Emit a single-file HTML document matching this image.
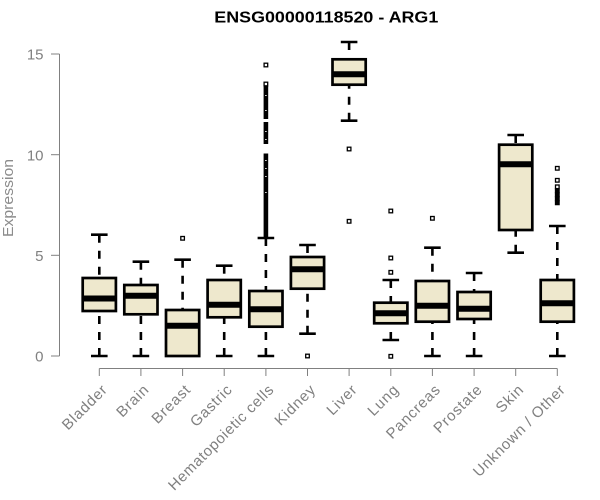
<!DOCTYPE html>
<html><head><meta charset="utf-8"><style>html,body{margin:0;padding:0;background:#fff}svg{display:block}</style></head>
<body>
<svg width="600" height="500" viewBox="0 0 600 500" xmlns="http://www.w3.org/2000/svg" font-family="Liberation Sans, Arial, sans-serif">
<rect width="600" height="500" fill="#fff"/>
<text x="214.3" y="22.7" font-size="15.5" font-weight="bold" textLength="224" lengthAdjust="spacingAndGlyphs">ENSG00000118520 - ARG1</text>
<!-- y axis -->
<g stroke="#808080" stroke-width="1" fill="none">
<line x1="59.5" y1="54" x2="59.5" y2="356"/>
<line x1="51" y1="54" x2="59.5" y2="54"/>
<line x1="51" y1="154.7" x2="59.5" y2="154.7"/>
<line x1="51" y1="255.3" x2="59.5" y2="255.3"/>
<line x1="51" y1="356" x2="59.5" y2="356"/>
<line x1="99.3" y1="368.5" x2="557.3" y2="368.5"/>
<line x1="99.3" y1="368.5" x2="99.3" y2="376"/>
<line x1="140.9" y1="368.5" x2="140.9" y2="376"/>
<line x1="182.6" y1="368.5" x2="182.6" y2="376"/>
<line x1="224.2" y1="368.5" x2="224.2" y2="376"/>
<line x1="265.9" y1="368.5" x2="265.9" y2="376"/>
<line x1="307.5" y1="368.5" x2="307.5" y2="376"/>
<line x1="349.1" y1="368.5" x2="349.1" y2="376"/>
<line x1="390.8" y1="368.5" x2="390.8" y2="376"/>
<line x1="432.4" y1="368.5" x2="432.4" y2="376"/>
<line x1="474.1" y1="368.5" x2="474.1" y2="376"/>
<line x1="515.7" y1="368.5" x2="515.7" y2="376"/>
<line x1="557.3" y1="368.5" x2="557.3" y2="376"/>
</g>
<g fill="#808080" font-size="15" text-anchor="end">
<text x="43.5" y="59.7">15</text>
<text x="43.5" y="160.4">10</text>
<text x="43.5" y="261">5</text>
<text x="43.5" y="361.7">0</text>
</g>
<text transform="translate(13,198) rotate(-90)" text-anchor="middle" font-size="15" fill="#8c8c8c" textLength="78" lengthAdjust="spacingAndGlyphs">Expression</text>
<g fill="#808080" font-size="15" text-anchor="end">
<text transform="translate(107.8,391) rotate(-45)" textLength="56.3" lengthAdjust="spacing">Bladder</text>
<text transform="translate(149.4,391) rotate(-45)" textLength="38.2" lengthAdjust="spacing">Brain</text>
<text transform="translate(191.1,391) rotate(-45)" textLength="47.3" lengthAdjust="spacing">Breast</text>
<text transform="translate(232.7,391) rotate(-45)" textLength="51.8" lengthAdjust="spacing">Gastric</text>
<text transform="translate(274.4,391) rotate(-45)" textLength="141.7" lengthAdjust="spacing">Hematopoietic cells</text>
<text transform="translate(316,391) rotate(-45)" textLength="50" lengthAdjust="spacing">Kidney</text>
<text transform="translate(357.6,391) rotate(-45)" textLength="35.4" lengthAdjust="spacing">Liver</text>
<text transform="translate(399.3,391) rotate(-45)" textLength="36.4" lengthAdjust="spacing">Lung</text>
<text transform="translate(440.9,391) rotate(-45)" textLength="69" lengthAdjust="spacing">Pancreas</text>
<text transform="translate(482.6,391) rotate(-45)" textLength="60.9" lengthAdjust="spacing">Prostate</text>
<text transform="translate(524.2,391) rotate(-45)" textLength="31.8" lengthAdjust="spacing">Skin</text>
<text transform="translate(565.8,391) rotate(-45)" textLength="122.6" lengthAdjust="spacing">Unknown / Other</text>
</g>

<!-- whiskers (dashed, starting at staple) -->
<g stroke="#000" stroke-width="2.6" stroke-dasharray="8 8" fill="none">
<line x1="99.3" y1="234.7" x2="99.3" y2="278"/><line x1="99.3" y1="356" x2="99.3" y2="311"/>
<line x1="140.9" y1="261.7" x2="140.9" y2="285"/><line x1="140.9" y1="356" x2="140.9" y2="314.3"/>
<line x1="182.6" y1="259.7" x2="182.6" y2="310"/>
<line x1="224.2" y1="265.7" x2="224.2" y2="280"/><line x1="224.2" y1="356" x2="224.2" y2="317.3"/>
<line x1="265.9" y1="238" x2="265.9" y2="291"/><line x1="265.9" y1="356" x2="265.9" y2="326.7"/>
<line x1="307.5" y1="245" x2="307.5" y2="257"/><line x1="307.5" y1="333.7" x2="307.5" y2="288.7"/>
<line x1="349.1" y1="42" x2="349.1" y2="59.3"/><line x1="349.1" y1="120.7" x2="349.1" y2="84.7"/>
<line x1="390.8" y1="280" x2="390.8" y2="302.7"/><line x1="390.8" y1="340" x2="390.8" y2="323.3"/>
<line x1="432.4" y1="247.7" x2="432.4" y2="281"/><line x1="432.4" y1="356" x2="432.4" y2="321.7"/>
<line x1="474.1" y1="273" x2="474.1" y2="292"/><line x1="474.1" y1="356" x2="474.1" y2="319"/>
<line x1="515.7" y1="135" x2="515.7" y2="144.7"/><line x1="515.7" y1="252.7" x2="515.7" y2="230"/>
<line x1="557.3" y1="226" x2="557.3" y2="280"/><line x1="557.3" y1="356" x2="557.3" y2="321.7"/>
</g>
<!-- staples -->
<g stroke="#000" stroke-width="2.6" fill="none">
<line x1="91" y1="234.7" x2="107.6" y2="234.7"/><line x1="91" y1="356" x2="107.6" y2="356"/>
<line x1="132.6" y1="261.7" x2="149.2" y2="261.7"/><line x1="132.6" y1="356" x2="149.2" y2="356"/>
<line x1="174.3" y1="259.7" x2="190.9" y2="259.7"/>
<line x1="215.9" y1="265.7" x2="232.5" y2="265.7"/><line x1="215.9" y1="356" x2="232.5" y2="356"/>
<line x1="257.6" y1="238" x2="274.2" y2="238"/><line x1="257.6" y1="356" x2="274.2" y2="356"/>
<line x1="299.2" y1="245" x2="315.8" y2="245"/><line x1="299.2" y1="333.7" x2="315.8" y2="333.7"/>
<line x1="340.8" y1="42" x2="357.4" y2="42"/><line x1="340.8" y1="120.7" x2="357.4" y2="120.7"/>
<line x1="382.5" y1="280" x2="399.1" y2="280"/><line x1="382.5" y1="340" x2="399.1" y2="340"/>
<line x1="424.1" y1="247.7" x2="440.7" y2="247.7"/><line x1="424.1" y1="356" x2="440.7" y2="356"/>
<line x1="465.8" y1="273" x2="482.4" y2="273"/><line x1="465.8" y1="356" x2="482.4" y2="356"/>
<line x1="507.4" y1="135" x2="524" y2="135"/><line x1="507.4" y1="252.7" x2="524" y2="252.7"/>
<line x1="549" y1="226" x2="565.6" y2="226"/><line x1="549" y1="356" x2="565.6" y2="356"/>
</g>
<!-- boxes -->
<g stroke="#000" stroke-width="2.7" fill="#EEE8CD">
<rect x="82.7" y="278" width="33.2" height="33"/>
<rect x="124.3" y="285" width="33.2" height="29.3"/>
<rect x="166" y="310" width="33.2" height="46"/>
<rect x="207.6" y="280" width="33.2" height="37.3"/>
<rect x="249.3" y="291" width="33.2" height="35.7"/>
<rect x="290.9" y="257" width="33.2" height="31.7"/>
<rect x="332.5" y="59.3" width="33.2" height="25.4"/>
<rect x="374.2" y="302.7" width="33.2" height="20.6"/>
<rect x="415.8" y="281" width="33.2" height="40.7"/>
<rect x="457.5" y="292" width="33.2" height="27"/>
<rect x="499.1" y="144.7" width="33.2" height="85.3"/>
<rect x="540.7" y="280" width="33.2" height="41.7"/>
</g>
<!-- medians -->
<g stroke="#000" stroke-width="6" fill="none">
<line x1="82.7" y1="298.5" x2="115.9" y2="298.5"/>
<line x1="124.3" y1="295.7" x2="157.5" y2="295.7"/>
<line x1="166" y1="325.7" x2="199.2" y2="325.7"/>
<line x1="207.6" y1="304.7" x2="240.8" y2="304.7"/>
<line x1="249.3" y1="309.3" x2="282.5" y2="309.3"/>
<line x1="290.9" y1="269.3" x2="324.1" y2="269.3"/>
<line x1="332.5" y1="74.3" x2="365.7" y2="74.3"/>
<line x1="374.2" y1="313.3" x2="407.4" y2="313.3"/>
<line x1="415.8" y1="305.7" x2="449" y2="305.7"/>
<line x1="457.5" y1="308.7" x2="490.7" y2="308.7"/>
<line x1="499.1" y1="164.3" x2="532.3" y2="164.3"/>
<line x1="540.7" y1="303.3" x2="573.9" y2="303.3"/>
</g>
<!-- outliers -->
<g stroke="#000" stroke-width="1.3" fill="#fff">
<rect x="180.8" y="236.5" width="3.6" height="3.6"/>
<rect x="305.7" y="354.2" width="3.6" height="3.6"/>
<rect x="347.3" y="147.2" width="3.6" height="3.6"/>
<rect x="347.3" y="219.5" width="3.6" height="3.6"/>
<rect x="389" y="209.2" width="3.6" height="3.6"/>
<rect x="389" y="256.2" width="3.6" height="3.6"/>
<rect x="389" y="270.5" width="3.6" height="3.6"/>
<rect x="389" y="354.5" width="3.6" height="3.6"/>
<rect x="430.6" y="216.5" width="3.6" height="3.6"/>
<rect x="555.5" y="166.5" width="3.6" height="3.6"/>
<rect x="555.5" y="178.5" width="3.6" height="3.6"/>
<rect x="555.5" y="185" width="3.6" height="3.6"/>
<rect x="555.5" y="189" width="3.6" height="3.6"/>
<rect x="555.5" y="193" width="3.6" height="3.6"/>
<rect x="555.5" y="197" width="3.6" height="3.6"/>
<rect x="555.5" y="201" width="3.6" height="3.6"/>
<rect x="264.1" y="63.2" width="3.6" height="3.6"/>
<rect x="264.1" y="82.2" width="3.6" height="3.6"/>
</g>
<g fill="#000">
<rect x="263.6" y="86" width="4.6" height="33"/>
<rect x="263.6" y="122" width="4.6" height="22"/>
<rect x="263.6" y="153.5" width="4.6" height="84"/>
<rect x="555.2" y="188" width="4.2" height="17"/>
</g>
<g fill="#fff">
<rect x="265.2" y="95" width="1.4" height="1"/>
<rect x="265.2" y="110" width="1.4" height="1"/>
<rect x="265.2" y="131" width="1.4" height="1"/>
<rect x="265.2" y="139" width="1.4" height="1"/>
<rect x="265.2" y="160" width="1.4" height="1"/>
<rect x="265.2" y="168" width="1.4" height="1"/>
<rect x="265.2" y="176" width="1.4" height="1"/>
<rect x="265.2" y="192" width="1.4" height="1"/>
</g>
</svg>
</body></html>
